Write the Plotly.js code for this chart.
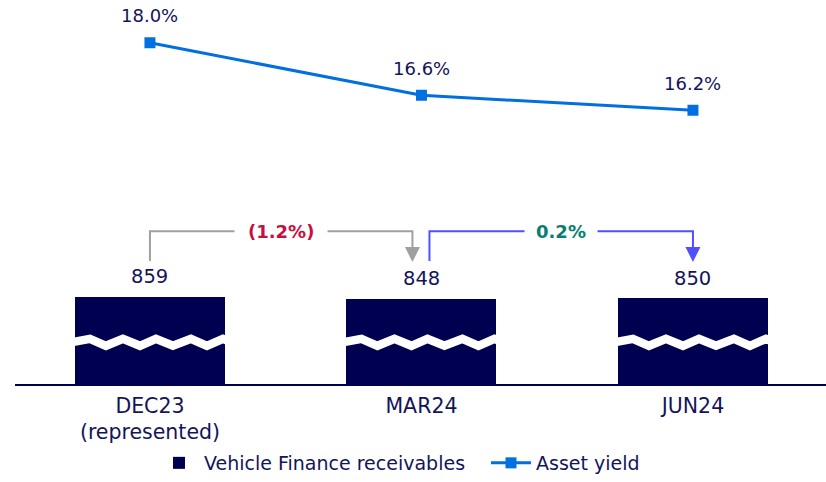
<!DOCTYPE html>
<html>
<head>
<meta charset="utf-8">
<script src="https://cdn.plot.ly/plotly-3.0.1.min.js"></script>
<style>html,body{margin:0;padding:0;background:#fff;}#chart{width:826px;height:482px;}</style>
</head>
<body>
<div id="chart"></div>
<script>
// ---- data ----
const categories = ['DEC23<br>(represented)', 'MAR24', 'JUN24'];
const receivables = [859, 848, 850];
const assetYield = [18.0, 16.6, 16.2];
const changeLabels = ['(1.2%)', '0.2%'];
const seriesNames = ['Vehicle Finance receivables', 'Asset yield'];

// ---- style ----
const NAVY = '#000050';
const TEXT = '#14145a';
const LINE = '#006fe0';
const GRAY = '#a0a0a0';
const BLUE = '#5050ff';
const RED = '#c8103e';
const TEAL = '#087f6e';
const FONT = 'DejaVu Sans, sans-serif';

const W = 826, H = 482;
const M = {l: 15, r: 0, t: 0, b: 95};
const plotW = W - M.l - M.r, plotH = H - M.t - M.b;
const xRange = [-0.497, 2.49];
const yBarRange = [370, 370 + plotH / 0.18];
const yLineRange = [8.9, 19.14];

const idx = categories.map((_, i) => i);
const xPx = i => M.l + (i - xRange[0]) / (xRange[1] - xRange[0]) * plotW;
const pxToPaperX = px => (px - M.l) / plotW;
const pxToPaperY = py => (plotH + M.t - py) / plotH;
const barTopPx = v => M.t + plotH - (v - yBarRange[0]) / (yBarRange[1] - yBarRange[0]) * plotH;

const traces = [
  {
    type: 'bar', x: idx, y: receivables, name: seriesNames[0],
    width: 0.5525, marker: {color: NAVY}, yaxis: 'y', hoverinfo: 'skip'
  },
  {
    type: 'scatter', mode: 'lines+markers', x: idx, y: assetYield, name: seriesNames[1],
    yaxis: 'y2', line: {color: LINE, width: 3},
    marker: {symbol: 'square', size: 11, color: LINE}, hoverinfo: 'skip'
  }
];

const shapes = [];
const annotations = [];

// broken-bar zigzag
idx.forEach(i => {
  const c = xPx(i);
  const pts = [[-79, 345], [-60, 341.5], [-44, 348.5], [-27, 341.5], [-10, 348.5], [6, 341.5], [23, 348.5], [41, 341.5], [57, 348.5], [73, 341.5], [79, 344]];
  let d = '';
  pts.forEach((p, k) => {
    d += (k === 0 ? 'M' : 'L') + pxToPaperX(c + p[0]).toFixed(5) + ',' + pxToPaperY(p[1]).toFixed(5) + ' ';
  });
  shapes.push({type: 'path', xref: 'paper', yref: 'paper', path: d, line: {color: '#ffffff', width: 8.5}, fillcolor: 'rgba(0,0,0,0)'});
});

// bar value labels
idx.forEach(i => {
  annotations.push({x: i, y: receivables[i], xref: 'x', yref: 'y', text: String(receivables[i]),
    showarrow: false, yanchor: 'middle', yshift: 20, font: {family: FONT, size: 19.5, color: TEXT}});
});
// line value labels
idx.forEach(i => {
  annotations.push({x: i, y: assetYield[i], xref: 'x', yref: 'y2', text: assetYield[i].toFixed(1) + '%',
    showarrow: false, yanchor: 'middle', yshift: 27, font: {family: FONT, size: 18, color: TEXT}});
});

// change brackets
const topPx = Math.min(...receivables.map(barTopPx));
const bracketY = topPx - 66;
const startY = topPx - 36;
const tipY = topPx - 35;
const brackets = [
  {from: 0, to: 1, x0off: 0, x1off: -9, color: GRAY, textColor: RED, pad: 13},
  {from: 1, to: 2, x0off: 8, x1off: 0, color: BLUE, textColor: TEAL, pad: 11}
];
brackets.forEach((b, k) => {
  const x0 = xPx(b.from) + b.x0off, x1 = xPx(b.to) + b.x1off;
  const X = pxToPaperX, Y = pxToPaperY;
  shapes.push({type: 'path', xref: 'paper', yref: 'paper',
    path: `M${X(x0)},${Y(startY)} L${X(x0)},${Y(bracketY)} L${X(x1)},${Y(bracketY)} L${X(x1)},${Y(tipY - 12)}`,
    line: {color: b.color, width: 2}, fillcolor: 'rgba(0,0,0,0)'});
  shapes.push({type: 'path', xref: 'paper', yref: 'paper',
    path: `M${X(x1 - 7.5)},${Y(tipY - 15)} L${X(x1 + 7.5)},${Y(tipY - 15)} L${X(x1)},${Y(tipY)} Z`,
    line: {color: b.color, width: 0}, fillcolor: b.color});
  annotations.push({xref: 'paper', yref: 'paper', x: X((x0 + x1) / 2), y: Y(bracketY),
    text: '<b>' + changeLabels[k] + '</b>', showarrow: false, xanchor: 'center', yanchor: 'middle',
    bgcolor: '#ffffff', borderpad: b.pad,
    font: {family: FONT, size: 18, color: b.textColor}});
});

const layout = {
  width: W, height: H, margin: M,
  paper_bgcolor: '#ffffff', plot_bgcolor: '#ffffff',
  font: {family: FONT, size: 19, color: TEXT},
  showlegend: true,
  legend: {orientation: 'h', x: pxToPaperX(154), xanchor: 'left', y: pxToPaperY(467), yanchor: 'middle',
    font: {family: FONT, size: 19, color: TEXT}, itemwidth: 40, traceorder: 'normal', entrywidth: 277},
  xaxis: {type: 'linear', range: xRange, tickvals: idx, ticktext: categories, showgrid: false,
    zeroline: false, showline: true, linecolor: NAVY, linewidth: 2, ticks: '', ticklabelstandoff: 2,
    tickfont: {family: FONT, size: 20.5, color: TEXT}, fixedrange: true},
  yaxis: {range: yBarRange, visible: false, showgrid: false, zeroline: false, fixedrange: true},
  yaxis2: {range: yLineRange, overlaying: 'y', visible: false, showgrid: false, zeroline: false, fixedrange: true},
  shapes: shapes,
  annotations: annotations,
  bargap: 0
};

Plotly.newPlot('chart', traces, layout, {displayModeBar: false, staticPlot: true});
</script>
</body>
</html>
